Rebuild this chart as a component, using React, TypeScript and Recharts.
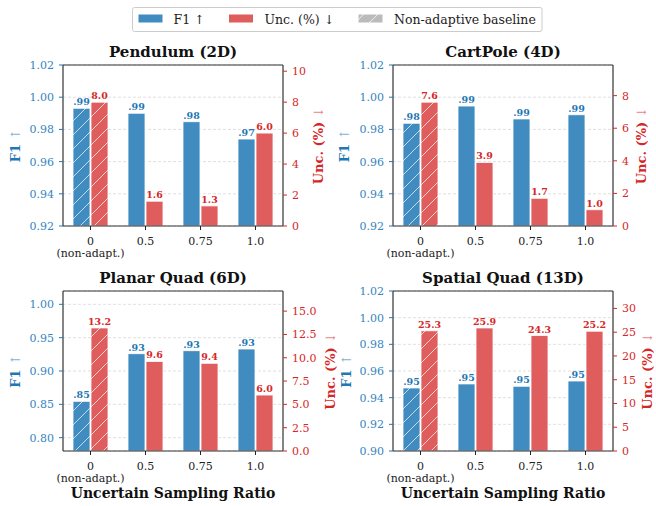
import React from 'react';
import { BarChart, Bar, XAxis, YAxis, CartesianGrid, Cell, LabelList, ReferenceLine } from 'recharts';

const FONT = 'DejaVu Serif';
const BLUE = '#408bbf';
const RED = '#e05d5e';
const BLUE_TXT = '#1f77b4';
const RED_TXT = '#d62728';

// x categories
const ratios = ['0\n(non-adapt.)', '0.5', '0.75', '1.0'];
const BASELINE = 0;

// F1 (left axis) and uncertainty % (right axis)
const pendulumF1 = [0.9931, 0.99, 0.9848, 0.974];
const pendulumUnc = [8.0, 1.6, 1.3, 6.0];
const cartpoleF1 = [0.9838, 0.9945, 0.9865, 0.9891];
const cartpoleUnc = [7.6, 3.9, 1.7, 1.0];
const planarF1 = [0.8545, 0.926, 0.9305, 0.933];
const planarUnc = [13.2, 9.6, 9.4, 6.0];
const spatialF1 = [0.9473, 0.9503, 0.9485, 0.9525];
const spatialUnc = [25.3, 25.9, 24.3, 25.2];

const f1TicksA = [0.92, 0.94, 0.96, 0.98, 1.0, 1.02];
const f1TicksPlanar = [0.8, 0.85, 0.9, 0.95, 1.0];
const f1TicksSpatial = [0.9, 0.92, 0.94, 0.96, 0.98, 1.0, 1.02];
const uncTicksPendulum = [0, 2, 4, 6, 8, 10];
const uncTicksCartpole = [0, 2, 4, 6, 8];
const uncTicksPlanar = [0, 2.5, 5, 7.5, 10, 12.5, 15];
const uncTicksSpatial = [0, 5, 10, 15, 20, 25, 30];

const fmtF1 = (v: number) => v.toFixed(2).replace(/^0/, '');
const fmtUnc = (v: number) => v.toFixed(1);

function RatioTick({ x, y, payload }: any) {
  const lines = String(payload.value).split('\n');
  return (
    <text x={x} y={y} textAnchor="middle" fontSize={11} fill="#222" style={{ fontFamily: FONT }}>
      {lines.map((l, i) => (
        <tspan key={i} x={x} dy={i === 0 ? 12.5 : 12}>{l}</tspan>
      ))}
    </text>
  );
}

function valueLabel(color: string, fmt: (v: number) => string) {
  return (p: any) => {
    if (p.value == null) return null;
    return (
      <text x={p.x + p.width / 2} y={p.y - 3} textAnchor="middle" fontSize={9.5} fontWeight="bold"
        fill={color} style={{ fontFamily: FONT }}>
        {fmt(Number(p.value))}
      </text>
    );
  };
}

type PanelProps = {
  f1: number[]; unc: number[];
  f1Domain: [number, number]; f1Ticks: number[];
  uncDomain: [number, number]; uncTicks: number[]; uncDigits: number;
  left: number; top: number; width: number; height: number;
  mTop: number; mRight: number; yl: number; yr: number; xh: number;
};

function Panel(p: PanelProps) {
  const rows = ratios.map((ratio, i) => ({ ratio, f1: p.f1[i], unc: p.unc[i] }));
  return (
    <div style={{ position: 'absolute', left: p.left, top: p.top, fontFamily: FONT }}>
      <BarChart width={p.width} height={p.height} data={rows} barGap={1}
        margin={{ top: p.mTop, right: p.mRight, bottom: 0, left: 0 }}>
        <CartesianGrid yAxisId="l" vertical={false} stroke="#d8d8d8" strokeDasharray="3 2" strokeWidth={0.8} />
        <XAxis dataKey="ratio" interval={0} height={p.xh} tick={<RatioTick />} tickSize={4} tickMargin={2}
          axisLine={{ stroke: '#333', strokeWidth: 1.2 }} tickLine={{ stroke: '#222' }} />
        <YAxis yAxisId="l" domain={p.f1Domain} ticks={p.f1Ticks} width={p.yl} tickSize={4} tickMargin={5}
          tickFormatter={(v: number) => v.toFixed(2)}
          tick={{ fill: '#3585c0', fontSize: 11, fontFamily: FONT }}
          axisLine={{ stroke: '#333', strokeWidth: 1.2 }} tickLine={{ stroke: BLUE_TXT }} />
        <YAxis yAxisId="r" orientation="right" domain={p.uncDomain} ticks={p.uncTicks} width={p.yr}
          tickSize={4} tickMargin={5} tickFormatter={(v: number) => v.toFixed(p.uncDigits)}
          tick={{ fill: RED_TXT, fontSize: 11, fontFamily: FONT }}
          axisLine={{ stroke: '#333', strokeWidth: 1.2 }} tickLine={{ stroke: RED_TXT }} />
        <ReferenceLine yAxisId="l" y={p.f1Domain[1]} stroke="#333" strokeWidth={1.2} />
        <Bar yAxisId="l" dataKey="f1" barSize={17} fill={BLUE} stroke="#fff" strokeWidth={0.8}
          isAnimationActive={false}>
          {rows.map((_, i) => (
            <Cell key={i} fill={i === BASELINE ? 'url(#hatch-blue)' : BLUE} />
          ))}
          <LabelList dataKey="f1" content={valueLabel(BLUE_TXT, fmtF1)} />
        </Bar>
        <Bar yAxisId="r" dataKey="unc" barSize={17} fill={RED} stroke="#fff" strokeWidth={0.8}
          isAnimationActive={false}>
          {rows.map((_, i) => (
            <Cell key={i} fill={i === BASELINE ? 'url(#hatch-red)' : RED} />
          ))}
          <LabelList dataKey="unc" content={valueLabel(RED_TXT, fmtUnc)} />
        </Bar>
      </BarChart>
    </div>
  );
}

function Hatch({ id, color }: { id: string; color: string }) {
  return (
    <pattern id={id} patternUnits="userSpaceOnUse" width={14} height={14}>
      <rect width={14} height={14} fill={color} />
      <path d="M-2,2 L2,-2 M0,14 L14,0 M12,16 L16,12" stroke="#fff" strokeOpacity={0.7} strokeWidth={1} />
    </pattern>
  );
}

function VLabel({ x, y, text, arrow, color }: { x: number; y: number; text: string; arrow: string; color: string }) {
  return (
    <text transform={`translate(${x},${y}) rotate(-90)`} textAnchor="middle" dominantBaseline="central"
      fontSize={13} style={{ fontFamily: FONT }} fill={color}>
      <tspan fontWeight="bold">{text}</tspan>
      <tspan fontWeight="normal" fillOpacity={0.6}>{' ' + arrow}</tspan>
    </text>
  );
}

export default function App() {
  return (
    <div style={{ position: 'absolute', left: 0, top: 0, width: 656, height: 506, background: '#fff' }}>
      <svg width={0} height={0} style={{ position: 'absolute' }}>
        <defs>
          <Hatch id="hatch-blue" color={BLUE} />
          <Hatch id="hatch-red" color={RED} />
          <Hatch id="hatch-gray" color="#bbbbbb" />
        </defs>
      </svg>

      <Panel f1={pendulumF1} unc={pendulumUnc} f1Domain={[0.92, 1.02]} f1Ticks={f1TicksA}
        uncDomain={[0, 10.4]} uncTicks={uncTicksPendulum} uncDigits={0}
        left={0} top={40} width={345} height={230} mTop={25} mRight={17} yl={63} yr={45} xh={44} />
      <Panel f1={cartpoleF1} unc={cartpoleUnc} f1Domain={[0.92, 1.02]} f1Ticks={f1TicksA}
        uncDomain={[0, 9.88]} uncTicks={uncTicksCartpole} uncDigits={0}
        left={328} top={40} width={328} height={230} mTop={25} mRight={0} yl={65} yr={43} xh={44} />
      <Panel f1={planarF1} unc={planarUnc} f1Domain={[0.78, 1.02]} f1Ticks={f1TicksPlanar}
        uncDomain={[0, 17.16]} uncTicks={uncTicksPlanar} uncDigits={1}
        left={0} top={260} width={345} height={246} mTop={31} mRight={17} yl={63} yr={45} xh={55} />
      <Panel f1={spatialF1} unc={spatialUnc} f1Domain={[0.9, 1.02]} f1Ticks={f1TicksSpatial}
        uncDomain={[0, 33.67]} uncTicks={uncTicksSpatial} uncDigits={0}
        left={328} top={260} width={328} height={246} mTop={31} mRight={0} yl={65} yr={43} xh={55} />

      <svg width={656} height={506} style={{ position: 'absolute', left: 0, top: 0, pointerEvents: 'none' }}>
        {/* legend */}
        <rect x={132.5} y={7.5} width={409.5} height={24} fill="#fff" stroke="#cccccc" rx={2} />
        <rect x={138.5} y={14.5} width={24} height={8} fill={BLUE} />
        <rect x={229} y={14.5} width={24} height={8} fill={RED} />
        <rect x={358.5} y={14.5} width={24} height={8} fill="url(#hatch-gray)" />
        <g fontSize={12.5} fill="#222" style={{ fontFamily: FONT }}>
          <text x={173.5} y={23.5}>F1 ↑</text>
          <text x={264.5} y={23.5}>Unc. (%) ↓</text>
          <text x={394} y={23.5}>Non-adaptive baseline</text>
        </g>

        {/* titles */}
        <g fontSize={15} fontWeight="bold" fill="#111" textAnchor="middle" style={{ fontFamily: FONT }}>
          <text x={173} y={57}>Pendulum (2D)</text>
          <text x={503} y={57}>CartPole (4D)</text>
          <text x={173} y={283}>Planar Quad (6D)</text>
          <text x={503} y={283}>Spatial Quad (13D)</text>
        </g>

        {/* axis titles */}
        <VLabel x={15} y={145.5} text="F1" arrow="↑" color={BLUE_TXT} />
        <VLabel x={318} y={145.5} text="Unc. (%)" arrow="↓" color={RED_TXT} />
        <VLabel x={344} y={145.5} text="F1" arrow="↑" color={BLUE_TXT} />
        <VLabel x={641} y={145.5} text="Unc. (%)" arrow="↓" color={RED_TXT} />
        <VLabel x={15} y={371} text="F1" arrow="↑" color={BLUE_TXT} />
        <VLabel x={330} y={371} text="Unc. (%)" arrow="↓" color={RED_TXT} />
        <VLabel x={346} y={371} text="F1" arrow="↑" color={BLUE_TXT} />
        <VLabel x={647} y={371} text="Unc. (%)" arrow="↓" color={RED_TXT} />

        <g fontSize={14} fontWeight="bold" fill="#111" textAnchor="middle" style={{ fontFamily: FONT }}>
          <text x={173} y={498}>Uncertain Sampling Ratio</text>
          <text x={503} y={498}>Uncertain Sampling Ratio</text>
        </g>
      </svg>
    </div>
  );
}
